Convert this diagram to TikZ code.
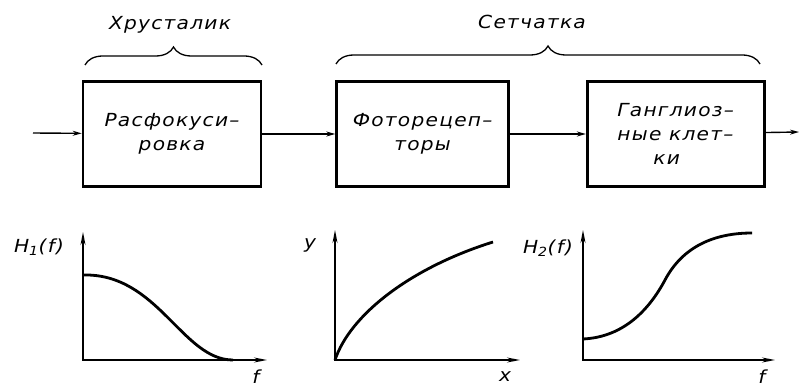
\documentclass[tikz,border=0pt]{standalone}
\usepackage{fontspec}
\setmainfont{DejaVu Sans}
\newfontfamily\gost[LetterSpace=7, FakeStretch=1.12]{DejaVu Sans}
\usetikzlibrary{arrows.meta,positioning,decorations.pathreplacing}

\begin{document}
\begin{tikzpicture}[
  x=1pt, y=-1pt,
  >={Stealth[length=9pt,width=5pt]},
  every node/.style={font=\gost\itshape\fontsize{18}{24}\selectfont},
  block/.style={draw, rectangle, line width=2.6pt, minimum height=105pt, inner sep=0pt},
  conn/.style={->, line width=1.4pt},
  axis/.style={<->, line width=1.4pt, >={Stealth[length=13pt,width=5pt]}},
  curve/.style={line width=2.8pt},
  brc/.style={decorate, decoration={brace, amplitude=18pt}, line width=1.3pt}
]
\useasboundingbox (0,0) rectangle (799,387);

\node (rasf)  [block, align=center, minimum width=178pt] at (172,134) {Расфокуси–\\ровка};
\node (foto)  [block, align=center, minimum width=172pt, right=73pt of rasf] {Фоторецеп–\\торы};
\node (gangl) [block, align=left, minimum width=177pt, right=76pt of foto]
              {Ганглиоз–\\ные клет–\\\hspace*{36pt}ки};

\coordinate (in)  at (33,133);
\coordinate (out) at (799,132);
\draw[conn] (in)   -- (rasf);
\draw[conn] (rasf) -- (foto);
\draw[conn] (foto) -- (gangl);
\draw[conn] (gangl) -- (out);

% braces over the blocks
\draw[brc] (85,65)  -- (262,65);
\draw[brc] (336,64) -- (760,64);
\node (hrust) at (170,25) {Хрусталик};
\node (setch) at (532,22) {Сетчатка};

% characteristics
\draw[axis] (83,232) |- (267,360);
\draw[curve] (83,275) .. controls (158,273) and (182,360) .. (233,360);
\node (h1) at (39,247)  {H\textsubscript{1}(f)};
\node (f1) [inner sep=0pt] at (256,377) {f};

\draw[axis] (335,230) |- (520,360);
\draw[curve] (335,360) .. controls (350,315) and (410,268) .. (493,242);
\node (yy) at (310,245) {y};
\node (xx) [inner sep=0pt] at (505,377) {x};

\draw[axis] (583,230) |- (775,360);
\draw[curve] (583,339) .. controls (625,337) and (650,308) .. (665,280)
             .. controls (683,246) and (715,233) .. (752,233);
\node (h2) at (548,248) {H\textsubscript{2}(f)};
\node (f2) [inner sep=0pt] at (762,377) {f};
\end{tikzpicture}
\end{document}
